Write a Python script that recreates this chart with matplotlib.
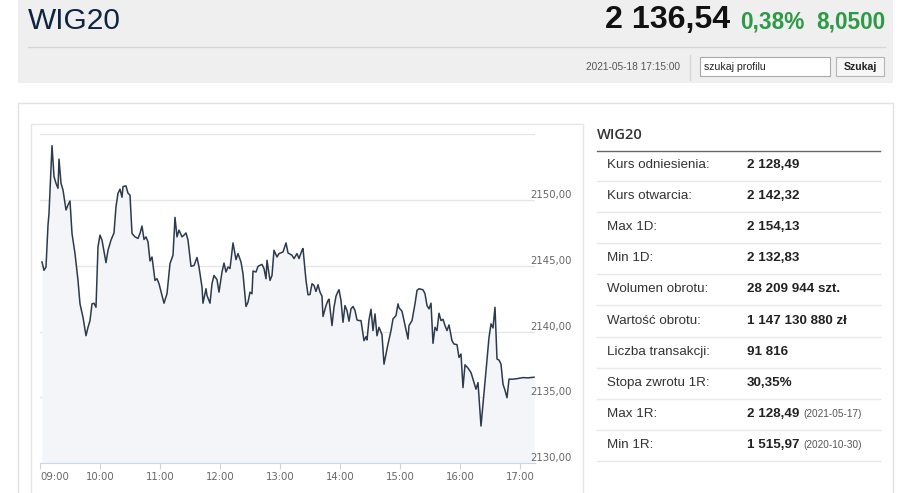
import matplotlib
matplotlib.use("Agg")
import matplotlib.pyplot as plt
from matplotlib import font_manager
from matplotlib.patches import Rectangle

# WIG20 intraday, minutes after 09:00
minutes = [2, 4, 6, 8, 9, 12, 14, 16, 18, 19,
           21, 23, 26, 28, 30, 32, 35, 38, 40, 43,
           46, 48, 50, 52, 54, 56, 58, 60, 62, 66,
           68, 71, 74, 76, 78, 80, 82, 83, 86, 88,
           90, 92, 95, 98, 100, 102, 104, 106, 108, 110,
           112, 115, 117, 119, 124, 127, 130, 133, 135, 137,
           139, 142, 144, 146, 148, 151, 154, 157, 159, 162,
           163, 166, 167, 170, 172, 174, 177, 179, 182, 184,
           186, 188, 190, 193, 196, 198, 201, 203, 206, 208,
           210, 212, 213, 216, 218, 222, 224, 226, 227, 230,
           232, 234, 237, 239, 243, 246, 248, 252, 254, 257,
           259, 262, 263, 266, 268, 270, 272, 274, 276, 278,
           280, 282, 283, 286, 288, 289, 292, 294, 296, 298,
           299, 301, 303, 305, 307, 309, 311, 313, 315, 317,
           319, 321, 324, 326, 327, 329, 331, 333, 335, 337,
           339, 342, 344, 346, 348, 351, 353, 356, 358, 359,
           362, 364, 368, 369, 372, 375, 377, 379, 383, 385,
           387, 389, 391, 393, 395, 397, 399, 401, 403, 405,
           407, 409, 412, 414, 417, 419, 421, 423, 425, 428,
           431, 433, 436, 438, 441, 443, 446, 449, 451, 453,
           455, 457, 459, 461, 463, 465, 467, 469, 473, 478,
           483, 488, 494]
wig20 = [2145.29, 2144.66, 2144.91, 2148.09, 2148.98, 2154.13, 2151.78, 2151.27, 2150.89, 2153.11,
         2151.27, 2150.76, 2149.24, 2149.62, 2149.92, 2147.46, 2145.93, 2143.89, 2142.11, 2141.09,
         2139.69, 2140.33, 2140.84, 2142.11, 2142.16, 2141.85, 2146.44, 2147.33, 2146.95, 2145.24,
         2146.18, 2146.95, 2147.50, 2149.49, 2150.51, 2150.82, 2150.21, 2151.02, 2151.07, 2150.51,
         2150.38, 2147.46, 2147.20, 2147.08, 2147.46, 2148.02, 2147.00, 2147.20, 2146.82, 2145.37,
         2145.67, 2143.89, 2144.02, 2143.64, 2142.16, 2142.88, 2145.17, 2145.80, 2148.68, 2147.20,
         2147.71, 2147.20, 2147.33, 2147.50, 2146.95, 2144.96, 2145.02, 2145.63, 2144.91, 2143.38,
         2142.16, 2143.26, 2142.75, 2142.16, 2143.64, 2144.27, 2143.95, 2143.00, 2144.53, 2145.21,
         2144.53, 2144.91, 2144.79, 2146.74, 2145.47, 2145.93, 2145.29, 2144.40, 2141.91, 2142.24,
         2143.00, 2142.88, 2144.60, 2144.53, 2144.96, 2145.11, 2144.79, 2144.02, 2145.42, 2143.89,
         2144.27, 2146.18, 2145.67, 2145.93, 2146.05, 2146.74, 2145.98, 2145.80, 2145.55, 2145.93,
         2145.55, 2146.18, 2146.31, 2143.89, 2142.80, 2142.82, 2143.64, 2143.51, 2143.05, 2143.56,
         2143.00, 2142.69, 2141.15, 2141.98, 2142.37, 2142.47, 2140.46, 2141.85, 2142.69, 2143.05,
         2143.18, 2142.37, 2140.71, 2141.98, 2141.60, 2140.79, 2141.73, 2141.91, 2141.60, 2140.89,
         2140.84, 2140.84, 2139.31, 2139.62, 2139.37, 2140.89, 2141.70, 2140.08, 2141.35, 2139.69,
         2140.33, 2139.77, 2137.53, 2138.30, 2139.06, 2140.08, 2140.97, 2141.22, 2142.11, 2141.81,
         2141.55, 2140.84, 2139.44, 2140.46, 2140.84, 2142.11, 2143.13, 2143.26, 2143.18, 2142.88,
         2141.98, 2141.73, 2142.16, 2139.11, 2140.33, 2140.08, 2141.40, 2140.84, 2140.94, 2140.46,
         2140.08, 2140.51, 2139.31, 2139.06, 2139.01, 2138.04, 2138.30, 2135.75, 2137.48, 2137.23,
         2136.89, 2136.39, 2135.63, 2136.13, 2132.83, 2134.48, 2137.02, 2139.56, 2140.59, 2140.28,
         2141.85, 2137.92, 2137.84, 2137.53, 2136.01, 2135.55, 2134.98, 2136.39, 2136.39, 2136.44,
         2136.51, 2136.49, 2136.54]

hour_ticks = [0, 60, 120, 180, 240, 300, 360, 420, 480]
hour_labels = ["09:00", "10:00", "11:00", "12:00", "13:00", "14:00", "15:00", "16:00", "17:00"]
price_ticks = [2130, 2135, 2140, 2145, 2150, 2155]

index_name = "WIG20"
last_price = "2 136,54"
change_pct = "0,38%"
change_pts = "8,0500"
timestamp = "2021-05-18 17:15:00"

stat_names = ["Kurs odniesienia:", "Kurs otwarcia:", "Max 1D:", "Min 1D:", "Wolumen obrotu:",
              "Wartość obrotu:", "Liczba transakcji:", "Stopa zwrotu 1R:", "Max 1R:", "Min 1R:"]
stat_values = ["2 128,49", "2 142,32", "2 154,13", "2 132,83", "28 209 944 szt.",
               "1 147 130 880 zł", "91 816", "30,35%", "2 128,49", "1 515,97"]
stat_notes = ["", "", "", "", "", "", "", "", "(2021-05-17)", "(2020-10-30)"]

available = {f.name for f in font_manager.fontManager.ttflist}
narrow = "Liberation Sans Narrow" if "Liberation Sans Narrow" in available else "Liberation Sans"
shrink = 1.0 if narrow == "Liberation Sans Narrow" else 0.86
small = 1.0 if narrow == "Liberation Sans Narrow" else 0.94
arial = "Liberation Sans"

fig = plt.figure(figsize=(9.22, 4.93), dpi=100)

# page background, pixel coordinates
bg = fig.add_axes([0, 0, 1, 1])
bg.set_xlim(0, 922)
bg.set_ylim(493, 0)
bg.axis("off")

bg.add_patch(Rectangle((18, 0), 875, 83, facecolor="#efefef", edgecolor="none"))
bg.plot([28, 885], [47, 47], color="#d6d6d6", lw=1)
bg.text(28, 21, index_name, fontsize=25 * shrink, family=narrow, color="#0f2342", va="center")
bg.text(730, 20, last_price, fontsize=27 * shrink, family=narrow, weight="bold", color="#111111",
        va="center", ha="right")
bg.text(740, 22, change_pct, fontsize=19 * shrink, family=narrow, weight="bold", color="#2e9a47",
        va="center")
bg.text(885, 22, change_pts, fontsize=19 * shrink, family=narrow, weight="bold", color="#2e9a47",
        va="center", ha="right")

bg.text(680, 67, timestamp, fontsize=7.8 * small, family=narrow, color="#555555", va="center",
        ha="right")
bg.plot([690, 690], [55, 80], color="#d6d6d6", lw=1)
bg.add_patch(Rectangle((700, 57), 130, 19, facecolor="white", edgecolor="#a9a9a9", lw=0.8))
bg.text(704, 66.5, "szukaj profilu", fontsize=8 * small, family=narrow, color="#222222",
        va="center")
bg.add_patch(Rectangle((836, 57), 48, 19, facecolor="#f6f6f6", edgecolor="#b5b5b5", lw=0.8))
bg.text(860, 67, "Szukaj", fontsize=8 * small, family=narrow, weight="bold", color="#222222",
        va="center", ha="center")

# panel and chart frame
bg.add_patch(Rectangle((18, 103), 875, 420, facecolor="white", edgecolor="#e2e2e2", lw=1))
bg.add_patch(Rectangle((31, 124), 552, 400, facecolor="white", edgecolor="#e6e6e6", lw=1))

# stats table
bg.text(597, 135, index_name, fontsize=10.5, family="Open Sans", weight="semibold",
        color="#333333", va="center")
bg.plot([597, 880], [150.5, 150.5], color="#666666", lw=1)
for i, (name, value, note) in enumerate(zip(stat_names, stat_values, stat_notes)):
    y = 165 + 31.1 * i
    bg.text(607, y, name, fontsize=9.6, family=arial, color="#333333", va="center")
    val = bg.text(747, y, value, fontsize=9.6, family=arial, weight="bold", color="#222222",
                  va="center")
    if note:
        bg.annotate(note, xy=(1, 0.5), xycoords=val, xytext=(3, 0), textcoords="offset points",
                    fontsize=7.2, family=arial, color="#555555", va="center")
    bg.plot([597, 880], [y + 16, y + 16], color="#e8e8e8", lw=1)

# chart
ax = fig.add_axes([40 / 922, (493 - 463.3) / 493, 495 / 922, (463.3 - 133.5) / 493])
ax.set_facecolor("none")
ax.fill_between(minutes, wig20, 2130, color="#f3f5f8", lw=0)
ax.plot(minutes, wig20, color="#2e3a4c", lw=1.1)
ax.set_xlim(0, 495)
ax.set_ylim(2130, 2155.05)

for p in price_ticks[1:]:
    ax.axhline(p, color="#e6e6e6", lw=1, zorder=0)
for p in price_ticks[:-1]:
    ax.annotate(f"{p:.2f}".replace(".", ","), xy=(1, p), xycoords=("axes fraction", "data"),
                xytext=(-5, 5), textcoords="offset pixels", fontsize=7.3, color="#666666",
                va="center", ha="left", annotation_clip=False)

for side in ["top", "left", "right"]:
    ax.spines[side].set_visible(False)
ax.spines["bottom"].set_color("#ccd6eb")
ax.set_yticks([])
ax.set_xticks(hour_ticks)
labels = ax.set_xticklabels(hour_labels)
labels[0].set_ha("left")
ax.tick_params(axis="x", length=4.3, color="#ccd6eb", labelcolor="#666666", labelsize=7.3, pad=2)

fig.savefig("out.png", dpi=100)
